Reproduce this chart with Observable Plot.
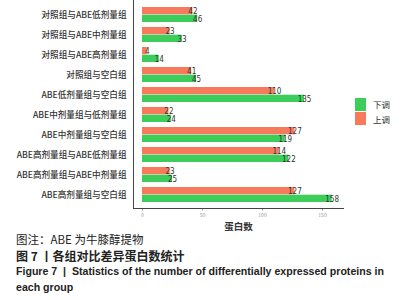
<!DOCTYPE html>
<html><head><meta charset="utf-8">
<script src="https://cdn.jsdelivr.net/npm/d3@7"></script>
<script src="https://cdn.jsdelivr.net/npm/@observablehq/plot@0.6"></script>
<style>
body{margin:0;background:#fff;width:407px;height:300px;overflow:hidden;position:relative;font-family:"Noto Sans CJK SC",sans-serif;}
#legend{position:absolute;left:355px;top:97px;font-family:"Noto Sans CJK SC";font-size:8.5px;color:#333;}
#legend .row{display:flex;align-items:center;height:14px;margin-bottom:0.5px;}
#legend .sw{width:11px;height:13px;margin-right:7px;}
#cap{position:absolute;left:16px;top:231px;color:#222;}
#cap .l1{font-family:"Noto Sans CJK SC";font-size:11.5px;line-height:16px;}
#cap .l2{font-family:"Noto Sans CJK SC";font-size:12px;font-weight:bold;line-height:17px;}
#cap .l3{font-family:"Liberation Sans";font-size:10.6px;font-weight:bold;line-height:15.5px;}
</style></head><body>
<div id="chart"></div>
<div id="legend"></div>
<div id="cap">
<div class="l1">图注：ABE 为牛膝醇提物</div>
<div class="l2">图 7 丨各组对比差异蛋白数统计</div>
<div class="l3">Figure 7&nbsp; |&nbsp; Statistics of the number of differentially expressed proteins in<br>each group</div>
</div>
<script>
const groups = ["对照组与ABE低剂量组","对照组与ABE中剂量组","对照组与ABE高剂量组","对照组与空白组","ABE低剂量组与空白组","ABE中剂量组与低剂量组","ABE中剂量组与空白组","ABE高剂量组与ABE低剂量组","ABE高剂量组与ABE中剂量组","ABE高剂量组与空白组"];
const upValues = [42,23,4,41,110,22,127,114,23,127];
const downValues = [46,33,14,45,135,24,119,122,25,158];
const xTicks = [0,50,100,150];
const seriesNames = ["下调","上调"];
const red = "#f87a5c", green = "#3ccd5a";

const up = groups.map((g,i)=>({group:g, value:upValues[i]}));
const down = groups.map((g,i)=>({group:g, value:downValues[i]}));

const plot = Plot.plot({
  width:407, height:232,
  marginLeft:133, marginRight:64, marginTop:0, marginBottom:24,
  style:{fontFamily:"Noto Sans CJK SC", background:"#fff"},
  x:{domain:[-7.5,167.5]},
  y:{domain:groups, paddingInner:0.26, paddingOuter:0.23},
  marks:[
    Plot.barX(up,{x1:0,x2:"value",y:"group",fill:red,insetBottom:7.7}),
    Plot.barX(down,{x1:0,x2:"value",y:"group",fill:green,insetTop:7.7}),
    Plot.text(up,{x:"value",y:"group",text:d=>String(d.value),dy:-3.9,fontSize:8,fill:"#333",fontFamily:"DejaVu Sans Condensed",textAnchor:"middle"}),
    Plot.text(down,{x:"value",y:"group",text:d=>String(d.value),dy:4.5,fontSize:8,fill:"#333",fontFamily:"DejaVu Sans Condensed",textAnchor:"middle"}),
    Plot.axisY({tickSize:0,tickPadding:7,fontSize:8.6,fill:"#333",label:null,fontWeight:"500",fontFamily:"Noto Sans CJK SC"}),
    Plot.axisX({ticks:xTicks,tickSize:2.5,tickPadding:2,fontSize:5,fill:"#999",stroke:"#999",label:null}),
    Plot.ruleX([-7.5],{stroke:"#444",strokeWidth:1}),
    Plot.frame({anchor:"bottom",stroke:"#444",strokeWidth:1}),
    Plot.text(["蛋白数"],{frameAnchor:"bottom",dy:21,fontSize:9.5,fill:"#333",fontWeight:"bold"})
  ]
});
document.getElementById("chart").appendChild(plot);

const leg = document.getElementById("legend");
[[seriesNames[0],green],[seriesNames[1],red]].forEach(([n,c])=>{
  const r=document.createElement("div");r.className="row";
  r.innerHTML=`<div class="sw" style="background:${c}"></div><span>${n}</span>`;
  leg.appendChild(r);
});
</script>
</body></html>
